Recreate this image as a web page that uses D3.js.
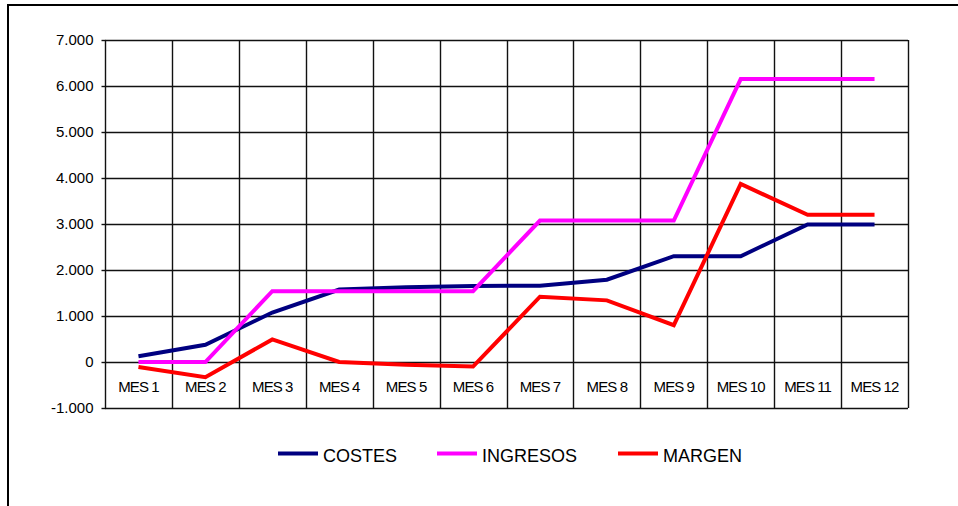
<!DOCTYPE html>
<html>
<head>
<meta charset="utf-8">
<script src="https://cdn.jsdelivr.net/npm/d3@7"></script>
<style>
  html, body { margin: 0; padding: 0; background: #fff; }
  svg { display: block; font-family: "Liberation Sans", Arial, sans-serif; }
</style>
</head>
<body>
<svg id="chart" width="958" height="506"></svg>
<script>
const categories = ["MES 1","MES 2","MES 3","MES 4","MES 5","MES 6","MES 7","MES 8","MES 9","MES 10","MES 11","MES 12"];
const costes   = [125, 375, 1075, 1575, 1625, 1650, 1660, 1790, 2300, 2300, 2990, 2990];
const ingresos = [0, 0, 1540, 1540, 1540, 1540, 3075, 3075, 3075, 6150, 6150, 6150];
const margen   = [-110, -330, 490, 0, -60, -100, 1420, 1340, 800, 3870, 3200, 3200];
const yTicks   = [-1000, 0, 1000, 2000, 3000, 4000, 5000, 6000, 7000];
const seriesNames  = ["COSTES", "INGRESOS", "MARGEN"];
const seriesColors = ["#000080", "#FF00FF", "#FF0000"];

const svg = d3.select("#chart");

// outer frame (top and left edges visible)
svg.append("path")
  .attr("d", "M8,506 L8,5 L958,5")
  .attr("fill", "none").attr("stroke", "#000").attr("stroke-width", 2);

const x = d3.scaleBand().domain(categories).range([105, 908]).padding(0);
const y = d3.scaleLinear().domain([-1000, 7000]).range([408, 40]);

const loc = d3.formatLocale({decimal: ",", thousands: ".", grouping: [3], currency: ["", ""], minus: "-"});
const fmt = loc.format(",.0f");

// horizontal grid
svg.append("g").selectAll("line").data(yTicks).join("line")
  .attr("x1", x.range()[0]).attr("x2", x.range()[1])
  .attr("y1", d => Math.round(y(d)) + 0.5).attr("y2", d => Math.round(y(d)) + 0.5)
  .attr("stroke", "#111").attr("stroke-width", 1.4);

// vertical grid at band boundaries
const bounds = categories.map(c => x(c)).concat([x.range()[1]]);
svg.append("g").selectAll("line").data(bounds).join("line")
  .attr("x1", d => Math.round(d) + 0.5).attr("x2", d => Math.round(d) + 0.5)
  .attr("y1", y(7000)).attr("y2", y(-1000))
  .attr("stroke", "#111").attr("stroke-width", 1.4);

// y axis
const yAxis = svg.append("g").attr("transform", "translate(105.5,0)")
  .call(d3.axisLeft(y).tickValues(yTicks).tickFormat(fmt).tickSize(4).tickPadding(8));
yAxis.select(".domain").remove();
yAxis.selectAll(".tick line").attr("stroke", "#111").attr("stroke-width", 1.4);
yAxis.selectAll("text").attr("font-size", 15).attr("fill", "#000")
  .attr("font-family", "'Liberation Sans', Arial, sans-serif");

// category labels inside plot
svg.append("g").selectAll("text").data(categories).join("text")
  .attr("x", d => x(d) + x.bandwidth() / 2)
  .attr("y", 392)
  .attr("text-anchor", "middle")
  .attr("font-size", 15)
  .attr("letter-spacing", -0.9)
  .attr("fill", "#000")
  .text(d => d);

// lines
const seriesData = [costes, ingresos, margen];
const line = d3.line()
  .x((d, i) => x(categories[i]) + x.bandwidth() / 2)
  .y(d => y(d));
seriesData.forEach((s, k) => {
  svg.append("path")
    .datum(s)
    .attr("d", line)
    .attr("fill", "none")
    .attr("stroke", seriesColors[k])
    .attr("stroke-width", 4)
    .attr("stroke-linejoin", "miter");
});

// legend
const legendX = [278, 437, 618];
const lg = svg.append("g");
seriesNames.forEach((n, k) => {
  lg.append("line")
    .attr("x1", legendX[k]).attr("x2", legendX[k] + 40)
    .attr("y1", 453.5).attr("y2", 453.5)
    .attr("stroke", seriesColors[k]).attr("stroke-width", 4);
  lg.append("text")
    .attr("x", legendX[k] + 45).attr("y", 461.5)
    .attr("font-size", 18)
    .attr("fill", "#000")
    .text(n);
});
</script>
</body>
</html>
